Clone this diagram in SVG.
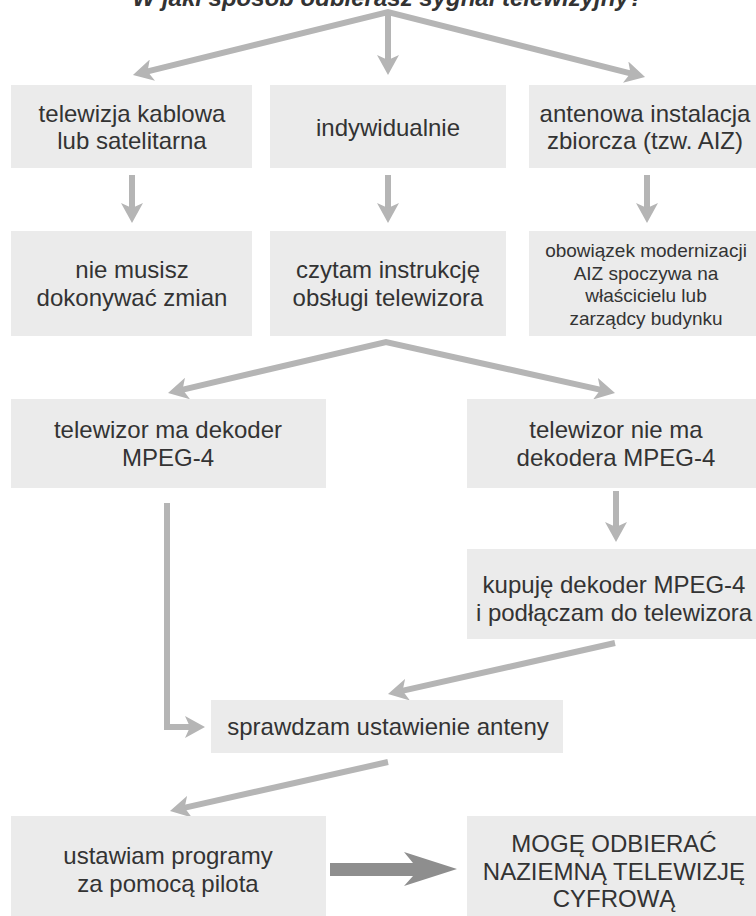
<svg xmlns="http://www.w3.org/2000/svg" width="756" height="916" viewBox="0 0 756 916">
  <style>
    .box { fill: #ebebeb; }
    .t { font-family: "Liberation Sans", Arial, sans-serif; font-size: 24px; fill: #333333; text-anchor: middle; }
    .ts { font-size: 19px; }
    .title { font-family: "Liberation Sans", Arial, sans-serif; font-size: 24px; font-weight: bold; font-style: italic; fill: #333333; text-anchor: middle; }
    .c { fill: none; stroke: #b5b5b5; stroke-width: 6; stroke-linejoin: miter; }
  </style>
  <defs>
    <marker id="ah" viewBox="0 0 20 22" refX="8" refY="11" markerWidth="20" markerHeight="22" markerUnits="userSpaceOnUse" orient="auto-start-reverse">
      <path d="M0,0 L20,11 L0,22 L5,11 Z" fill="#b5b5b5"/>
    </marker>
  </defs>

  <rect width="756" height="916" fill="#ffffff"/>

  <text class="title" x="388" y="6">W jaki sposób odbierasz sygnał telewizyjny?</text>

  <g id="connectors">
    <path class="c" d="M144.6,72.1 L388,12 L633.4,74.1" marker-start="url(#ah)" marker-end="url(#ah)"/>
    <path class="c" d="M388,14 V63" marker-end="url(#ah)"/>
    <path class="c" d="M132,175 V211" marker-end="url(#ah)"/>
    <path class="c" d="M388,175 V211" marker-end="url(#ah)"/>
    <path class="c" d="M647,175 V211" marker-end="url(#ah)"/>
    <path class="c" d="M179.7,390.3 L386,342 L603.3,390.4" marker-start="url(#ah)" marker-end="url(#ah)"/>
    <path class="c" d="M616,491 V530" marker-end="url(#ah)"/>
    <path class="c" d="M615,643 L399.7,691.4" marker-end="url(#ah)"/>
    <path class="c" d="M167,503 V727 H193" marker-end="url(#ah)"/>
    <path class="c" d="M388,762 L181.7,808.4" marker-end="url(#ah)"/>
    <polygon points="330,863 413,863 404,852 457,869 404,886 413,876 330,876" fill="#8e8e8e"/>
  </g>

  <g id="n-kablowa">
    <rect class="box" x="11" y="85" width="241" height="83"/>
    <text class="t" x="132" y="122">telewizja kablowa</text>
    <text class="t" x="132" y="149">lub satelitarna</text>
  </g>
  <g id="n-indywidualnie">
    <rect class="box" x="270" y="85" width="236" height="83"/>
    <text class="t" x="388" y="136">indywidualnie</text>
  </g>
  <g id="n-aiz">
    <rect class="box" x="529" y="85" width="227" height="83"/>
    <text class="t" x="645" y="122">antenowa instalacja</text>
    <text class="t" x="645" y="149">zbiorcza (tzw. AIZ)</text>
  </g>

  <g id="n-niemusisz">
    <rect class="box" x="11" y="231" width="241" height="105"/>
    <text class="t" x="132" y="278">nie musisz</text>
    <text class="t" x="132" y="306">dokonywać zmian</text>
  </g>
  <g id="n-czytam">
    <rect class="box" x="270" y="231" width="236" height="105"/>
    <text class="t" x="388" y="278">czytam instrukcję</text>
    <text class="t" x="388" y="306">obsługi telewizora</text>
  </g>
  <g id="n-obowiazek">
    <rect class="box" x="529" y="231" width="227" height="105"/>
    <text class="t ts" x="646" y="257">obowiązek modernizacji</text>
    <text class="t ts" x="646" y="280">AIZ spoczywa na</text>
    <text class="t ts" x="646" y="302">właścicielu lub</text>
    <text class="t ts" x="646" y="325">zarządcy budynku</text>
  </g>

  <g id="n-madekoder">
    <rect class="box" x="11" y="399" width="315" height="89"/>
    <text class="t" x="168" y="438">telewizor ma dekoder</text>
    <text class="t" x="168" y="466">MPEG-4</text>
  </g>
  <g id="n-niemadekodera">
    <rect class="box" x="467" y="399" width="289" height="89"/>
    <text class="t" x="616" y="438">telewizor nie ma</text>
    <text class="t" x="616" y="466">dekodera MPEG-4</text>
  </g>

  <g id="n-kupuje">
    <rect class="box" x="467" y="549" width="289" height="90"/>
    <text class="t" x="614" y="593">kupuję dekoder MPEG-4</text>
    <text class="t" x="614" y="621">i podłączam do telewizora</text>
  </g>

  <g id="n-sprawdzam">
    <rect class="box" x="211" y="700" width="352" height="53"/>
    <text class="t" x="388" y="735">sprawdzam ustawienie anteny</text>
  </g>

  <g id="n-ustawiam">
    <rect class="box" x="11" y="816" width="315" height="100"/>
    <text class="t" x="168" y="864">ustawiam programy</text>
    <text class="t" x="168" y="892">za pomocą pilota</text>
  </g>
  <g id="n-moge">
    <rect class="box" x="467" y="816" width="289" height="100"/>
    <text class="t" x="614" y="852">MOGĘ ODBIERAĆ</text>
    <text class="t" x="614" y="880">NAZIEMNĄ TELEWIZJĘ</text>
    <text class="t" x="614" y="907">CYFROWĄ</text>
  </g>
</svg>
